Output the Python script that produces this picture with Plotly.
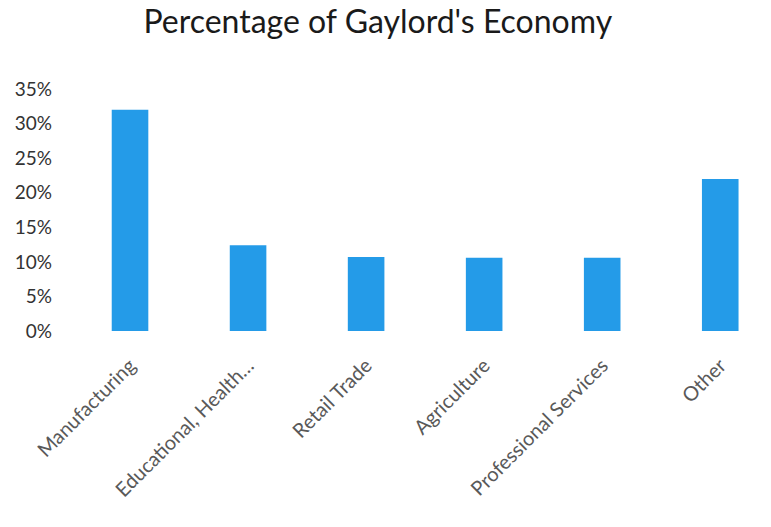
import plotly.graph_objects as go

categories = ["Manufacturing", "Educational, Health…", "Retail Trade", "Agriculture",
              "Professional Services", "Other"]
values = [0.32, 0.124, 0.107, 0.106, 0.106, 0.22]
y_ticks = [0, 0.05, 0.10, 0.15, 0.20, 0.25, 0.30, 0.35]
y_tick_labels = ["0%", "5%", "10%", "15%", "20%", "25%", "30%", "35%"]

fig = go.Figure(go.Bar(x=categories, y=values, marker=dict(color="#249BE8", line=dict(width=0))))

fig.update_layout(
    width=771, height=527,
    margin=dict(l=71, r=0, t=89, b=196),
    paper_bgcolor="white", plot_bgcolor="white",
    bargap=0.69,
    showlegend=False,
    title=dict(text="Percentage of Gaylord's Economy", x=0.49, xanchor="center",
               y=0.958, yanchor="middle",
               font=dict(family="Lato, Open Sans, sans-serif", size=32, color="#1a1a1a")),
    font=dict(family="Lato, Open Sans, sans-serif"),
)
fig.update_xaxes(range=[-0.5, 5.43], tickangle=-45, showline=False, ticks="outside",
                 ticklen=14, tickcolor="rgba(0,0,0,0)",
                 tickfont=dict(size=20, color="#595959"), showgrid=False)
fig.update_yaxes(range=[0, 0.35], tickvals=y_ticks, ticktext=y_tick_labels,
                 showgrid=False, zeroline=False, showline=False, ticks="",
                 tickfont=dict(size=19, color="#333333"), ticklabelstandoff=18)

fig.write_html("out.html")
